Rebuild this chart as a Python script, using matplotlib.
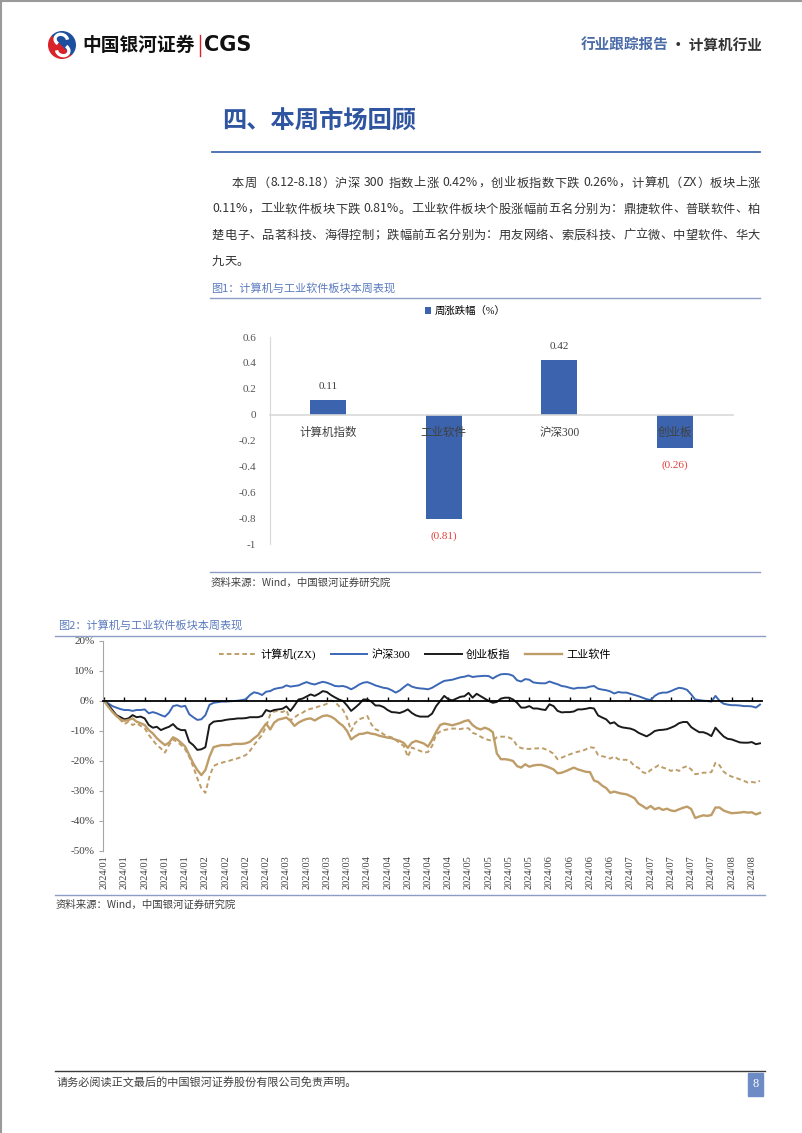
import matplotlib
matplotlib.use('Agg')
import matplotlib.pyplot as plt
from matplotlib.patches import Rectangle, Wedge, Arc
from matplotlib.lines import Line2D

plt.rcParams['font.family'] = ['Noto Sans CJK SC', 'DejaVu Sans']
SERIF = ['Liberation Serif', 'Noto Sans CJK SC']

W, H = 802, 1133

# ---- chart 1 data ----
bar_cats = ['计算机指数', '工业软件', '沪深300', '创业板']
bar_vals = [0.11, -0.81, 0.42, -0.26]
bar_yticks = [0.6, 0.4, 0.2, 0, -0.2, -0.4, -0.6, -0.8, -1]
bar_ylabels = ['0.6', '0.4', '0.2', '0', '-0.2', '-0.4', '-0.6', '-0.8', '-1']

# ---- chart 2 data (cumulative change, %) ----
date_labels = (['2024/01'] * 5 + ['2024/02'] * 4 + ['2024/03'] * 4 + ['2024/04'] * 5
               + ['2024/05'] * 4 + ['2024/06'] * 4 + ['2024/07'] * 5 + ['2024/08'] * 2)
pct_ticks = [20, 10, 0, -10, -20, -30, -40, -50]

computer_zx = [
    0, -1.7, -3.0, -4.7, -6.3, -7.7, -6.9, -8.0, -7.4, -8.3,
    -9.1, -11.3, -13.0, -14.7, -15.8, -17.2, -14.7, -12.8, -13.6, -14.7,
    -16.1, -18.6, -21.9, -25.8, -29.1, -30.6, -25.2, -21.7, -21.0, -20.6,
    -20.2, -19.9, -19.4, -19.1, -18.6, -18.0, -16.6, -14.7, -13.0, -11.3,
    -8.5, -4.5, -3.5, -3.3, -3.7, -3.0, -6.5, -5.5, -4.5, -3.9,
    -3.0, -2.6, -2.3, -1.8, -1.5, -0.9, 0.2, -0.3, -1.7, -3.0,
    -5.6, -10.0, -7.3, -6.1, -5.6, -5.0, -7.8, -9.4, -10.0, -11.1,
    -11.8, -12.1, -13.0, -14.0, -15.0, -18.6, -15.5, -16.1, -16.6, -17.2,
    -17.0, -15.0, -11.1, -10.2, -9.7, -9.4, -9.2, -9.2, -9.4, -9.0,
    -9.1, -10.6, -11.1, -11.9, -12.6, -13.0, -13.3, -12.1, -11.9, -11.9,
    -12.2, -12.8, -15.0, -15.7, -15.9, -16.0, -15.8, -15.8, -15.6, -16.1,
    -16.7, -17.6, -19.4, -18.9, -18.3, -17.8, -17.3, -16.9, -16.7, -16.1,
    -15.4, -15.6, -18.0, -18.4, -18.7, -19.2, -18.5, -19.4, -19.6, -19.6,
    -20.2, -21.7, -22.3, -23.7, -24.2, -23.0, -22.2, -21.4, -22.2, -22.6,
    -23.3, -22.8, -23.3, -22.2, -21.7, -22.8, -24.4, -24.2, -23.9, -23.9,
    -23.7, -20.6, -21.4, -23.5, -24.6, -25.2, -25.6, -26.1, -26.6, -27.2,
    -27.0, -27.2, -26.6,
]
hs300 = [
    0, -0.8, -1.7, -2.2, -2.7, -3.0, -3.0, -3.3, -3.0, -3.0,
    -2.8, -4.1, -3.7, -4.1, -4.7, -5.2, -3.9, -1.7, -1.4, -1.9,
    -1.6, -4.4, -5.4, -6.3, -6.1, -4.7, -1.3, -0.6, -0.4, -0.2,
    -0.2, -0.1, 0.0, 0.1, 0.3, 0.6, 2.0, 2.9, 2.6, 2.0,
    3.1, 3.3, 4.0, 4.3, 4.5, 5.2, 4.8, 5.0, 5.2, 5.8,
    6.3, 5.8, 5.5, 6.0, 6.4, 6.1, 5.6, 5.0, 4.9, 5.0,
    4.6, 3.9, 4.6, 5.5, 6.1, 6.3, 5.8, 5.2, 4.8, 4.4,
    4.2, 3.6, 2.8, 3.5, 4.6, 5.6, 4.8, 4.4, 4.2, 4.1,
    3.9, 4.4, 5.2, 6.0, 6.7, 6.9, 7.1, 7.5, 7.9, 8.1,
    8.5, 8.0, 8.2, 8.3, 8.4, 8.3, 7.5, 8.3, 8.9, 9.0,
    8.9, 8.4, 6.9, 6.5, 7.3, 7.1, 6.2, 6.0, 5.9, 5.9,
    6.5, 6.0, 5.6, 5.0, 4.8, 4.4, 4.1, 4.4, 4.4, 4.4,
    4.8, 5.0, 4.1, 3.8, 3.6, 3.2, 2.5, 3.0, 2.8, 2.8,
    2.4, 2.0, 1.6, 1.1, 0.6, 0.3, 1.7, 2.5, 2.8, 2.8,
    3.3, 3.9, 4.4, 4.2, 3.7, 2.2, 0.5, 0.3, 0.1, 0.0,
    -0.2, 1.7, 0.1, -0.9, -1.2, -1.4, -1.4, -1.5, -1.7, -1.7,
    -1.8, -2.2, -1.2,
]
chinext = [
    0, -1.3, -3.0, -4.7, -5.4, -6.1, -5.8, -4.7, -5.4, -5.2,
    -5.8, -8.0, -8.9, -8.6, -9.7, -9.1, -8.6, -7.7, -9.1, -9.7,
    -9.7, -13.6, -14.7, -16.3, -16.1, -15.4, -8.0, -6.9, -6.7, -6.6,
    -6.3, -6.1, -6.0, -5.8, -5.8, -5.7, -5.4, -5.4, -5.4, -5.0,
    -3.0, -3.5, -3.0, -2.8, -2.6, -1.8, -3.3, -1.5, 0.5, 0.8,
    1.5, 2.2, 1.7, 2.4, 3.3, 3.0, 2.0, 1.2, 0.5, 0.0,
    -1.5, -3.3, -2.2, -1.0, 0.5, 0.5, -0.2, -1.5, -1.5, -2.0,
    -3.0, -3.7, -3.8, -4.0, -3.5, -2.8, -4.0, -4.8, -5.2, -5.2,
    -5.2, -4.2, -1.7, 0.0, 1.7, 0.6, 0.2, 0.8, 1.4, 1.6,
    2.7, 1.1, 2.4, 1.6, 0.8, 0.0, -0.6, -0.3, 0.8, 1.1,
    1.1, 0.5, -0.6, -2.2, -2.2, -1.7, -2.5, -2.5, -2.8, -3.0,
    -1.1, -1.7, -3.3, -3.8, -3.7, -3.7, -3.5, -2.8, -2.8, -2.6,
    -2.3, -2.5, -4.8, -5.5, -6.1, -7.5, -7.1, -8.3, -8.8, -9.0,
    -9.2, -9.7, -10.6, -11.2, -11.8, -11.0, -10.0, -9.7, -9.6, -9.4,
    -8.9, -8.3, -7.4, -7.0, -7.0, -8.7, -9.6, -10.4, -10.4, -10.9,
    -11.7, -8.9, -10.4, -11.8, -12.6, -12.8, -13.3, -13.8, -13.9, -13.9,
    -13.7, -14.4, -14.1,
]
ind_software = [
    0, -1.9, -3.6, -5.0, -6.1, -6.6, -6.3, -5.8, -6.9, -7.4,
    -8.0, -9.7, -10.8, -12.4, -13.6, -14.7, -13.9, -12.1, -12.8, -13.9,
    -15.2, -18.0, -20.8, -23.0, -24.7, -23.0, -18.6, -15.4, -15.0, -14.7,
    -14.7, -14.7, -14.3, -14.3, -14.3, -14.1, -13.6, -12.4, -11.4, -9.4,
    -7.5, -9.5, -7.2, -6.2, -5.9, -5.5, -6.6, -8.3, -7.2, -6.5,
    -6.0, -5.8, -6.5, -5.7, -5.0, -4.8, -5.2, -6.0, -7.3, -8.3,
    -10.0, -12.8, -11.8, -11.0, -10.9, -10.5, -10.9, -11.1, -11.6, -11.9,
    -12.2, -12.4, -12.9, -13.3, -14.0, -15.6, -13.9, -13.3, -13.7, -14.2,
    -15.2, -13.0, -10.3, -8.0, -7.5, -7.8, -8.1, -7.7, -7.3, -6.7,
    -6.4, -8.0, -9.0, -9.5, -8.9, -9.4, -10.4, -17.5, -19.4, -19.4,
    -19.6, -20.0, -21.7, -22.2, -21.1, -21.9, -21.5, -21.3, -21.3, -21.7,
    -22.2, -22.8, -24.1, -23.9, -23.4, -22.8, -22.2, -22.8, -23.2, -23.6,
    -23.7, -26.5, -27.0, -28.2, -29.0, -30.6, -30.2, -30.6, -30.9, -31.1,
    -31.7, -32.4, -34.2, -35.0, -35.9, -35.0, -36.1, -35.6, -36.3, -35.9,
    -36.5, -36.7, -36.1, -35.6, -35.2, -36.0, -39.0, -38.5, -38.1, -38.3,
    -38.0, -35.5, -35.5, -36.5, -37.0, -37.4, -37.3, -37.2, -37.0, -37.2,
    -37.1, -37.8, -37.3,
]
series_names = ['计算机(ZX)', '沪深300', '创业板指', '工业软件']

BAR_BLUE = '#3c64ae'
TAN = '#bf9d68'
LINE_BLUE = '#3b67b5'
RED = '#e0413c'


def fx(x):
    return x / W


def fy(y):
    return 1 - y / H


fig = plt.figure(figsize=(W / 100, H / 100), dpi=100)
fig.patch.set_facecolor('white')
renderer = fig.canvas.get_renderer()


def hline(x0, x1, y, color, lw):
    fig.add_artist(Line2D([fx(x0), fx(x1)], [fy(y), fy(y)], color=color, lw=lw,
                          transform=fig.transFigure))


def justified(s, x0, x1, y, size, color, justify=True):
    tokens, buf = [], ''
    for ch in s:
        if ord(ch) < 128 and ch != ' ':
            buf += ch
        else:
            if buf:
                tokens.append(buf)
                buf = ''
            tokens.append(ch)
    if buf:
        tokens.append(buf)
    items = []
    for t in tokens:
        if t == ' ':
            items.append((None, 3.0))
            continue
        txt = fig.text(0, fy(y), t, fontsize=size, color=color, va='center', ha='left')
        items.append((txt, txt.get_window_extent(renderer).width))
    total = sum(w for _, w in items)
    gap = (x1 - x0 - total) / (len(items) - 1) if justify and len(items) > 1 else 0
    x = x0
    for txt, w in items:
        if txt is not None:
            txt.set_x(fx(x))
        x += w + gap


# page frame (scan edge)
fig.add_artist(Line2D([0, 1], [fy(1), fy(1)], color='#9a9a9a', lw=1.5, transform=fig.transFigure))
fig.add_artist(Line2D([fx(1), fx(1)], [0, 1], color='#9a9a9a', lw=1.5, transform=fig.transFigure))

# header logo
lg = fig.add_axes([fx(48), fy(59), 28 / W, 28 / H])
lg.set_xlim(-1, 1)
lg.set_ylim(-1, 1)
lg.set_aspect('equal')
lg.axis('off')
lg.add_patch(Wedge((0, 0), 0.95, 135, 315, color='#d8232a'))
lg.add_patch(Wedge((0, 0), 0.95, 315, 135, color='#1d4f9f'))
lg.add_patch(Arc((-0.05, 0.38), 0.9, 0.75, angle=-20, theta1=20, theta2=250, color='white', lw=2.4))
lg.add_patch(Arc((0.05, -0.38), 0.9, 0.75, angle=-20, theta1=200, theta2=430, color='white', lw=2.4))

fig.text(fx(82), fy(45), '中国银河证券', fontsize=13.5, fontweight='bold', color='#111111',
         va='center', ha='left')
fig.add_artist(Line2D([fx(200), fx(200)], [fy(35), fy(56)], color='#d8232a', lw=1,
                      transform=fig.transFigure))
fig.text(fx(204), fy(45), 'CGS', fontsize=15, fontweight='bold', color='#111111',
         family='DejaVu Sans', va='center', ha='left')
h2 = fig.text(fx(762), fy(45), '· 计算机行业', fontsize=10.5, fontweight='bold',
              color='#333333', va='center', ha='right')
w2 = h2.get_window_extent(renderer).width
fig.text(fx(762 - w2 - 3), fy(45), '行业跟踪报告', fontsize=10.5, fontweight='bold',
         color='#4a6aa8', va='center', ha='right')

# section title
fig.text(fx(222), fy(122), '四、本周市场回顾', fontsize=17.5, fontweight='bold', color='#2f55a0',
         va='center', ha='left')
hline(212, 760, 152, '#4169b0', 1.3)

# body text
body_color = '#333333'
justified('本周（8.12-8.18）沪深 300 指数上涨 0.42%，创业板指数下跌 0.26%，计算机（ZX）板块上涨',
          232, 760, 183, 8.8, body_color)
justified('0.11%，工业软件板块下跌 0.81%。工业软件板块个股涨幅前五名分别为：鼎捷软件、普联软件、柏',
          212, 760, 209, 8.8, body_color)
justified('楚电子、品茗科技、海得控制；跌幅前五名分别为：用友网络、索辰科技、广立微、中望软件、华大',
          212, 760, 235, 8.8, body_color)
justified('九天。', 212, 760, 261, 8.8, body_color, justify=False)

# ---- figure 1 ----
fig.text(fx(211), fy(288), '图1：计算机与工业软件板块本周表现', fontsize=8, color='#5b7bbf',
         va='center', ha='left')
hline(210, 760, 298, '#8d9dc4', 1.0)

ax1 = fig.add_axes([fx(270), fy(544), (733 - 270) / W, (544 - 337) / H])
ax1.set_facecolor('none')
xs = list(range(len(bar_cats)))
ax1.bar(xs, bar_vals, width=0.31, color=BAR_BLUE, label='周涨跌幅（%）', zorder=2)
ax1.set_xlim(-0.5, len(bar_cats) - 0.5)
ax1.set_ylim(-1, 0.6)
ax1.set_yticks(bar_yticks)
ax1.set_yticklabels(bar_ylabels, family=SERIF, fontsize=8, color='#555555')
ax1.tick_params(axis='y', length=0, pad=10)
ax1.set_xticks([])
for side in ['top', 'right']:
    ax1.spines[side].set_visible(False)
ax1.spines['left'].set_color('#d9d9d9')
ax1.spines['bottom'].set_position(('data', 0))
ax1.spines['bottom'].set_color('#d9d9d9')
ax1.spines['bottom'].set_linewidth(1.2)
for i, (cat, v) in enumerate(zip(bar_cats, bar_vals)):
    ax1.text(i, -0.14, cat, ha='center', va='center', fontsize=8.3, color='#404040',
             family=SERIF, zorder=3)
    if v >= 0:
        ax1.text(i, v + 0.11, f'{v:.2f}', ha='center', va='center', fontsize=8,
                 color='#404040', family=SERIF)
    else:
        ax1.text(i, v - 0.13, f'({abs(v):.2f})', ha='center', va='center', fontsize=8,
                 color=RED, family=SERIF)
ax1.legend(loc='center', bbox_to_anchor=(fx(465), fy(311)), bbox_transform=fig.transFigure,
           frameon=False, handlelength=0.6, handleheight=0.6, handletextpad=0.3,
           prop={'family': SERIF, 'size': 7.5})

hline(210, 760, 572, '#8d9dc4', 1.0)
fig.text(fx(211), fy(583), '资料来源：Wind，中国银河证券研究院', fontsize=7.5, style='italic',
         color='#404040', va='center', ha='left')

# ---- figure 2 ----
fig.text(fx(58), fy(625), '图2：计算机与工业软件板块本周表现', fontsize=8, color='#5b7bbf',
         va='center', ha='left')
hline(55, 765, 636, '#8d9dc4', 1.0)

ax2 = fig.add_axes([fx(103), fy(851), (762 - 103) / W, (851 - 641) / H])
ax2.set_facecolor('none')
n = len(hs300)
idx = list(range(n))
ax2.plot(idx, computer_zx, color=TAN, lw=1.4, dashes=[2.4, 1.6], label=series_names[0])
ax2.plot(idx, hs300, color=LINE_BLUE, lw=1.4, label=series_names[1])
ax2.plot(idx, chinext, color='#1a1a1a', lw=1.4, label=series_names[2])
ax2.plot(idx, ind_software, color=TAN, lw=1.7, label=series_names[3])
ax2.set_xlim(-0.3, n - 0.5)
ax2.set_ylim(-50, 20)
ax2.set_yticks(pct_ticks)
ax2.set_yticklabels([f'{t}%' for t in pct_ticks], family=SERIF, fontsize=8, color='#404040')
ax2.tick_params(axis='y', length=3, color='#a6a6a6', pad=3)
tick_pos = list(range(0, 5 * len(date_labels), 5))
ax2.set_xticks(tick_pos)
ax2.set_xticklabels([])
ax2.tick_params(axis='x', direction='in', length=3, color='black', width=1)
for side in ['top', 'right']:
    ax2.spines[side].set_visible(False)
ax2.spines['left'].set_color('#a6a6a6')
ax2.spines['bottom'].set_position(('data', 0))
ax2.spines['bottom'].set_color('black')
ax2.spines['bottom'].set_linewidth(1.3)
for p, lab in zip(tick_pos, date_labels):
    ax2.text(p, -51.3, lab, rotation=90, ha='center', va='top', fontsize=7.5,
             color='#404040', family=SERIF)
ax2.legend(loc='center', bbox_to_anchor=(fx(415), fy(654)), bbox_transform=fig.transFigure,
           ncol=4, frameon=False, handlelength=3.3, handletextpad=0.4, columnspacing=1.3,
           prop={'family': SERIF, 'size': 8})

hline(55, 765, 895, '#8d9dc4', 1.0)
fig.text(fx(56), fy(905), '资料来源：Wind，中国银河证券研究院', fontsize=7.5, style='italic',
         color='#404040', va='center', ha='left')

# footer
hline(55, 765, 1071, '#3a3a3a', 1.0)
fig.text(fx(57), fy(1083), '请务必阅读正文最后的中国银河证券股份有限公司免责声明。', fontsize=8,
         color='#404040', va='center', ha='left')
fig.add_artist(Rectangle((fx(748), fy(1096)), 15 / W, 23 / H, color='#6d8cc6',
                         transform=fig.transFigure))
fig.text(fx(755.5), fy(1084), '8', fontsize=9, color='white', family=SERIF,
         va='center', ha='center')

fig.savefig('out.png', dpi=100)
